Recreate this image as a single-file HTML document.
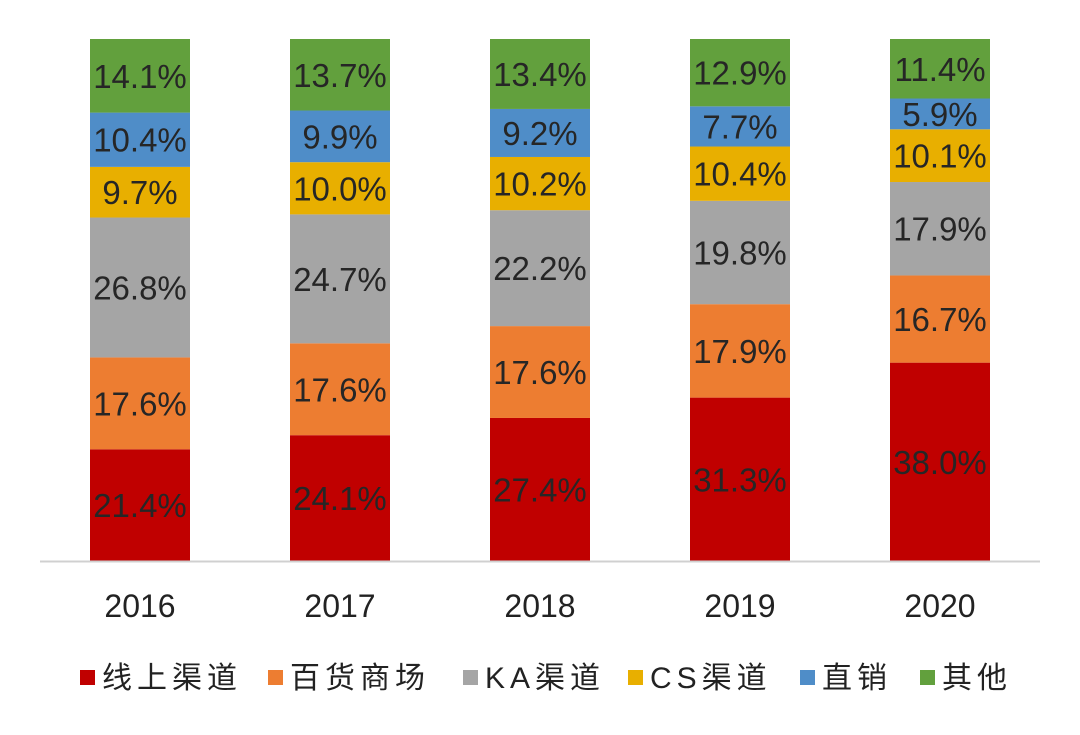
<!DOCTYPE html>
<html><head><meta charset="utf-8"><style>
body{margin:0;background:#fff;width:1080px;height:730px;overflow:hidden}
svg text{font-family:"Liberation Sans","Noto Sans CJK SC",sans-serif}
</style></head><body>
<svg id="chart" width="1080" height="730" xmlns="http://www.w3.org/2000/svg"></svg>
<script>
const years=["2016","2017","2018","2019","2020"];
const seriesNames=["线上渠道","百货商场","KA渠道","CS渠道","直销","其他"];
const online=[21.4,24.1,27.4,31.3,38.0];
const dept=[17.6,17.6,17.6,17.9,16.7];
const ka=[26.8,24.7,22.2,19.8,17.9];
const cs=[9.7,10.0,10.2,10.4,10.1];
const direct=[10.4,9.9,9.2,7.7,5.9];
const other=[14.1,13.7,13.4,12.9,11.4];
const series=[online,dept,ka,cs,direct,other];
const colors=["#C00000","#ED7D31","#A5A5A5","#E8AF00","#4F8DC8","#62A03D"];
const svg=document.getElementById('chart');
const NS="http://www.w3.org/2000/svg";
const baseY=561,topY=39;
const y=v=>baseY-(v/100)*(baseY-topY);
const xCenter=i=>140+i*200;
const barW=100;
function mk(tag,attrs){const e=document.createElementNS(NS,tag);for(const k in attrs)e.setAttribute(k,attrs[k]);svg.appendChild(e);return e;}
const slugs=["online","department-store","ka","cs","direct-sales","other"];
years.forEach((yr,i)=>{
  let cum=0;
  series.forEach((s,j)=>{
    const v=s[i];
    const r=mk('rect',{x:xCenter(i)-barW/2,y:y(cum+v),width:barW,height:y(cum)-y(cum+v),fill:colors[j]});
    
    
    const t=mk('text',{x:xCenter(i),y:(y(cum)+y(cum+v))/2+12,'text-anchor':'middle','font-size':33,fill:'#262626'});
    t.textContent=v.toFixed(1)+'%';
    
    
    cum+=v;
  });
  const lt=mk('text',{x:xCenter(i),y:617,'text-anchor':'middle','font-size':32,fill:'#222'});
  lt.textContent=yr;
  
  
});
const ax=mk('line',{x1:40,x2:1040,y1:baseY+0.5,y2:baseY+0.5,stroke:'#D0D0D0','stroke-width':2});


const legX=[80,268,463,628,800,920];
seriesNames.forEach((n,j)=>{
  const g=document.createElementNS(NS,'g');svg.appendChild(g);
  
  
  const r=document.createElementNS(NS,'rect');
  r.setAttribute('x',legX[j]);r.setAttribute('y',670);r.setAttribute('width',15);r.setAttribute('height',15);r.setAttribute('fill',colors[j]);
  g.appendChild(r);
  const t=document.createElementNS(NS,'text');
  t.setAttribute('x',legX[j]+22);t.setAttribute('y',688);t.setAttribute('font-size',30);t.setAttribute('fill','#222');
  t.setAttribute('letter-spacing','5');
  t.textContent=n;g.appendChild(t);
});
</script>
</body></html>
